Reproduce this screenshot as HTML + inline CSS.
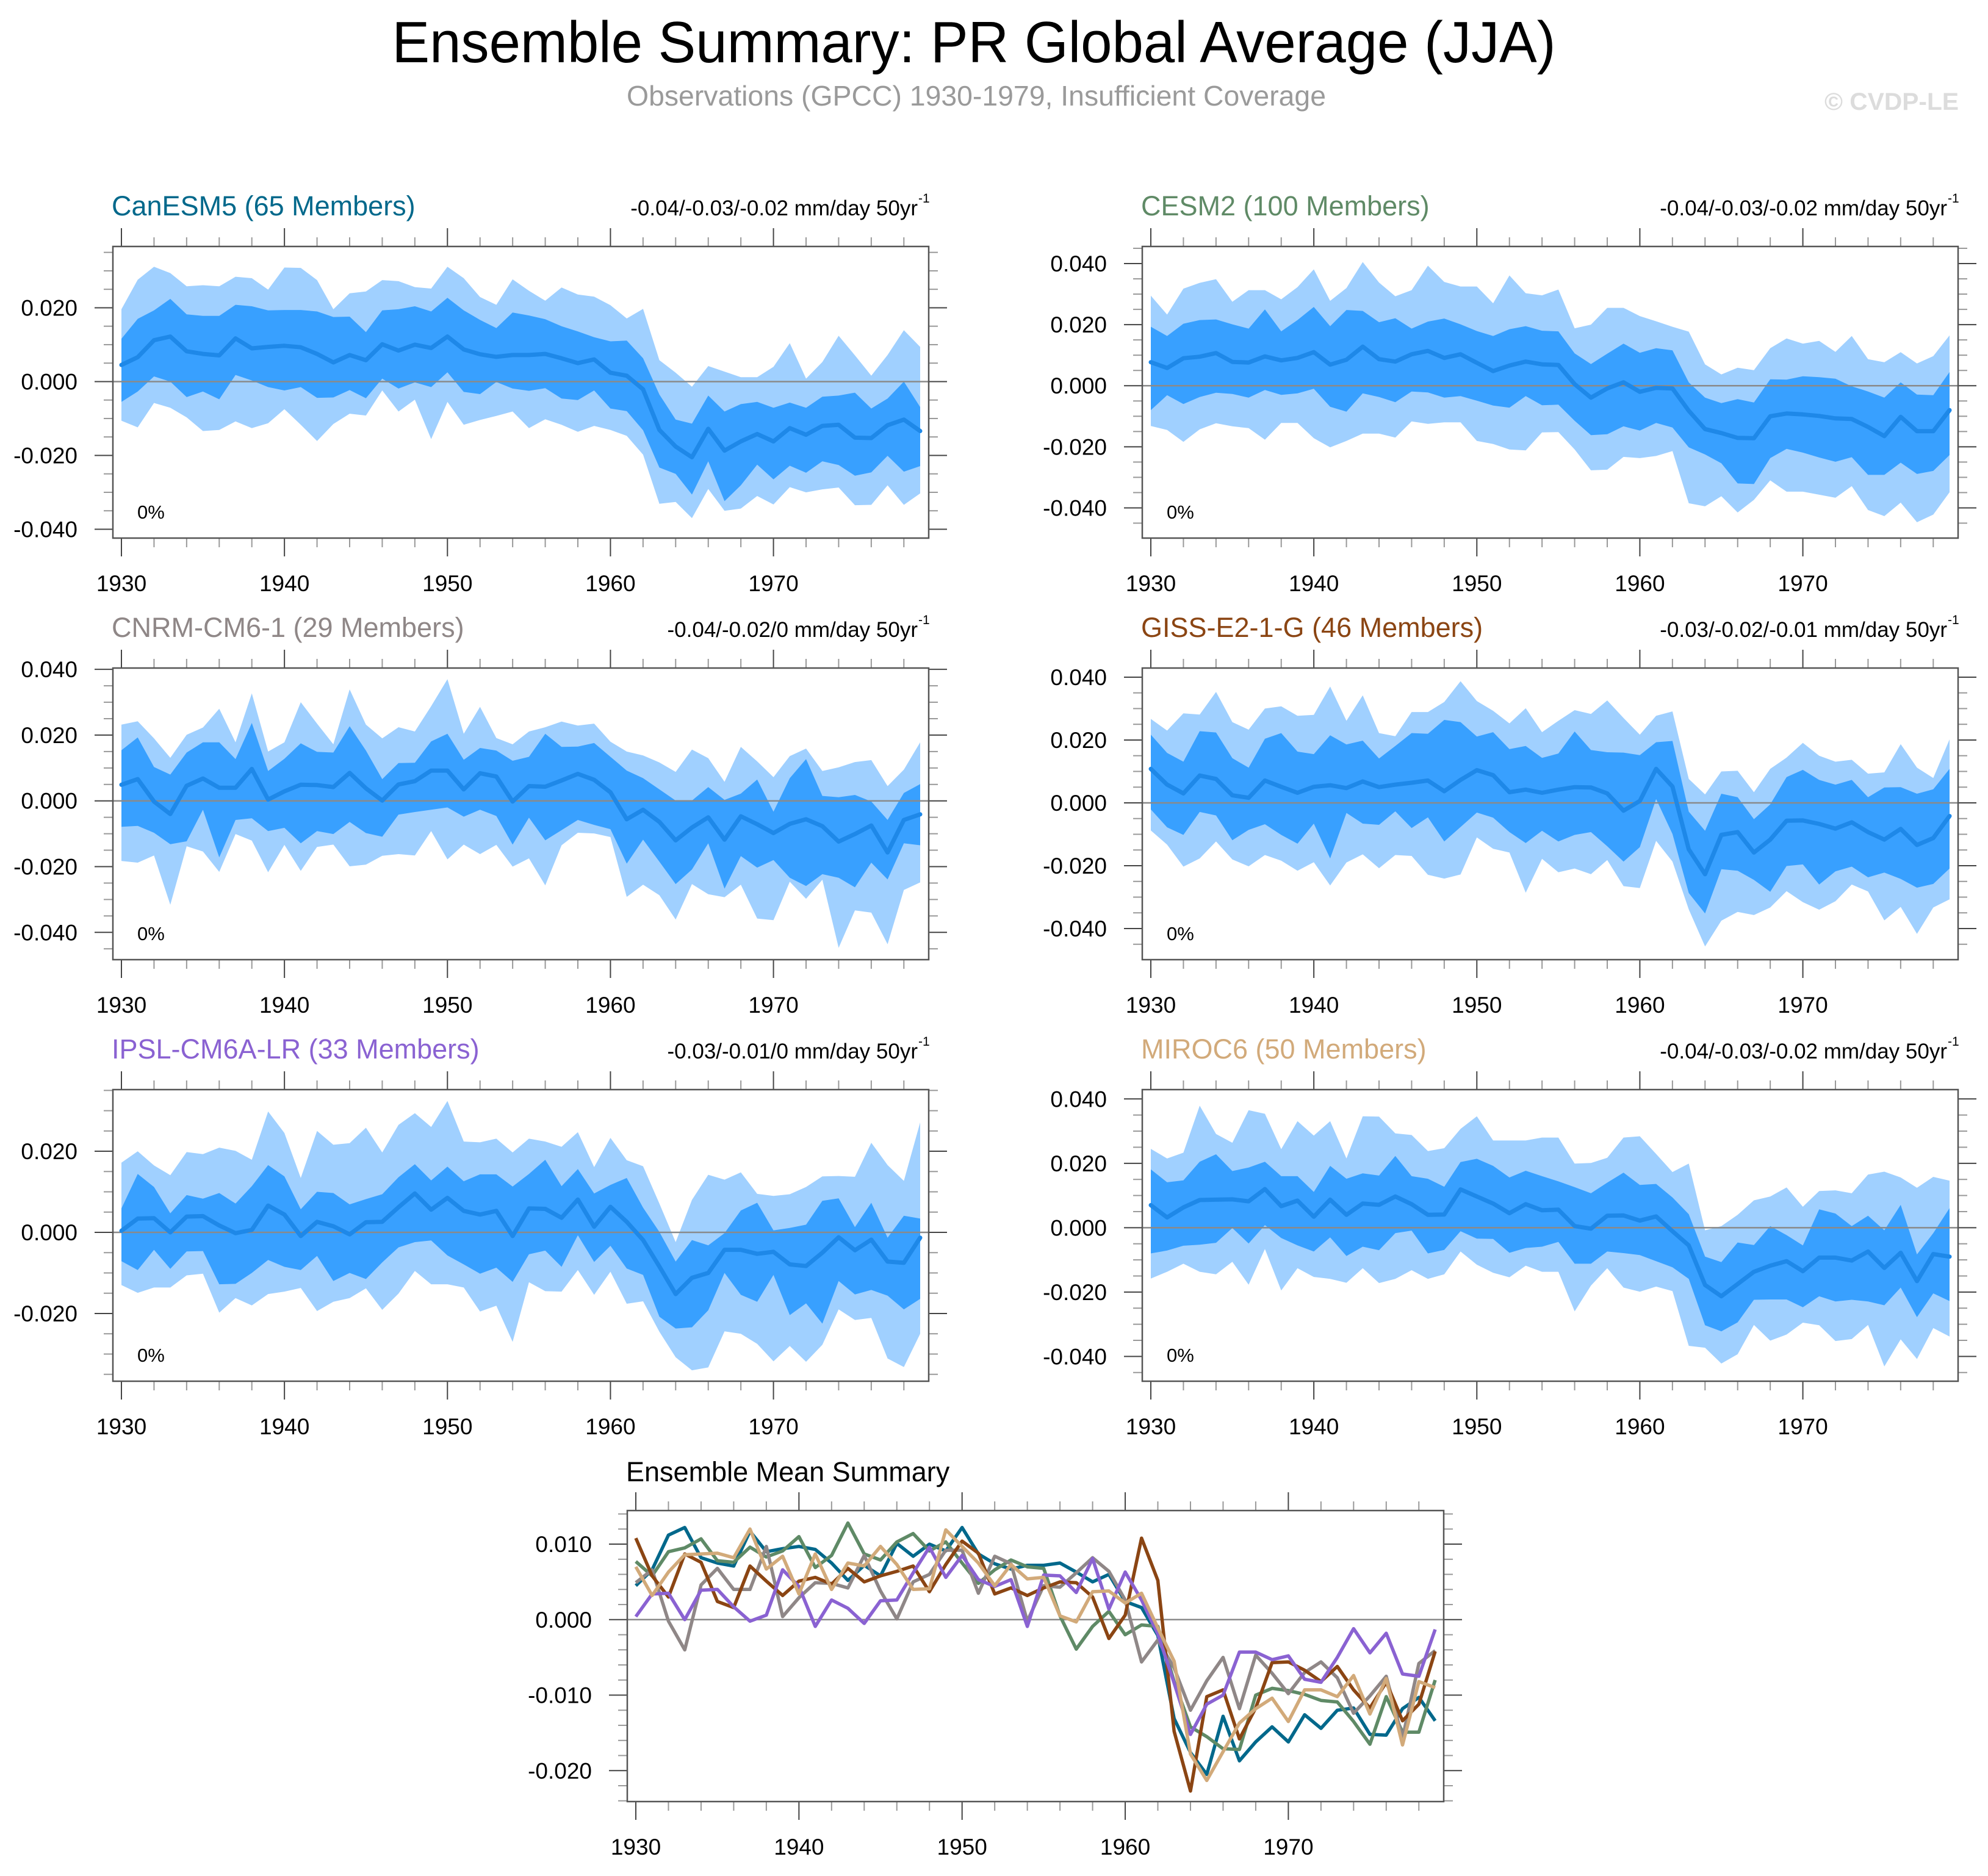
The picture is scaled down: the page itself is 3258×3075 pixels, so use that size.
<!DOCTYPE html>
<html><head><meta charset="utf-8">
<style>
html,body{margin:0;padding:0;background:#fff;}
svg{display:block;font-family:"Liberation Sans",Arial,sans-serif;}
</style></head>
<body>
<svg id="fig" width="3258" height="3075" viewBox="0 0 3258 3075" xmlns="http://www.w3.org/2000/svg">
<rect x="0" y="0" width="3258" height="3075" fill="#fff"/>
<text x="1596" y="102" font-size="96" text-anchor="middle" textLength="1907" lengthAdjust="spacingAndGlyphs">Ensemble Summary: PR Global Average (JJA)</text>
<text x="1600" y="173" font-size="46" fill="#9a9a9a" text-anchor="middle" textLength="1146" lengthAdjust="spacingAndGlyphs">Observations (GPCC) 1930-1979, Insufficient Coverage</text>
<text x="3210" y="180" font-size="40" font-weight="bold" fill="#dcdcdc" text-anchor="end" textLength="220" lengthAdjust="spacingAndGlyphs">© CVDP-LE</text>
<g id="panels"></g>
</svg>
<script>
const years = [];
for (let y = 1930; y <= 1979; y++) years.push(y);

const modelNames = ["CanESM5 (65 Members)","CESM2 (100 Members)","CNRM-CM6-1 (29 Members)","GISS-E2-1-G (46 Members)","IPSL-CM6A-LR (33 Members)","MIROC6 (50 Members)"];
const trendLabels = ["-0.04/-0.03/-0.02 mm/day 50yr","-0.04/-0.03/-0.02 mm/day 50yr","-0.04/-0.02/0 mm/day 50yr","-0.03/-0.02/-0.01 mm/day 50yr","-0.03/-0.01/0 mm/day 50yr","-0.04/-0.03/-0.02 mm/day 50yr"];
const modelColors = ["#00688b","#5f8a66","#8f8787","#8b4513","#8a62d2","#d2aa7a"];

// CanESM5
const canesm5Mean = [0.0045,0.0066,0.0112,0.0122,0.0082,0.0075,0.0071,0.0117,0.009,0.0094,0.0097,0.0093,0.0075,0.0052,0.0072,0.0058,0.0101,0.0084,0.01,0.0091,0.0122,0.0087,0.0074,0.0067,0.0072,0.0072,0.0075,0.0063,0.005,0.006,0.0024,0.0016,-0.0021,-0.0131,-0.0176,-0.0205,-0.0128,-0.0187,-0.0162,-0.0142,-0.0162,-0.0126,-0.0144,-0.012,-0.0117,-0.0152,-0.0153,-0.0118,-0.0103,-0.0134];
const canesm5InHi = [0.0116,0.017,0.0193,0.0224,0.0182,0.0178,0.0178,0.0208,0.0204,0.0193,0.0194,0.0194,0.019,0.0175,0.0176,0.0134,0.0193,0.0196,0.0204,0.019,0.0227,0.0193,0.0167,0.0145,0.0187,0.0179,0.0169,0.015,0.0136,0.012,0.0109,0.0111,0.0063,-0.0035,-0.0103,-0.0114,-0.0038,-0.0081,-0.0061,-0.0055,-0.0071,-0.0057,-0.0071,-0.0041,-0.0038,-0.003,-0.0073,-0.0046,0.0,-0.0069];
const canesm5InLo = [-0.0055,-0.0027,0.0014,0.0,-0.0042,-0.0027,-0.0048,0.0018,0.0003,-0.0015,-0.0024,-0.0015,-0.0044,-0.0043,-0.0023,-0.0045,0.0008,-0.0019,-0.0002,-0.0015,0.0025,-0.0028,-0.0034,-0.0001,-0.0019,-0.0025,-0.0018,-0.0046,-0.005,-0.0024,-0.0073,-0.008,-0.0132,-0.0233,-0.025,-0.0306,-0.0216,-0.0324,-0.0281,-0.0225,-0.0265,-0.0228,-0.0247,-0.0216,-0.0226,-0.0255,-0.0246,-0.0201,-0.0244,-0.0229];
const canesm5OutHi = [0.0196,0.0276,0.0311,0.0294,0.0258,0.0261,0.0258,0.0284,0.028,0.0249,0.0309,0.0308,0.0275,0.0196,0.0239,0.0244,0.0275,0.0272,0.0256,0.0252,0.0311,0.028,0.0229,0.0208,0.0277,0.0246,0.0219,0.0255,0.0236,0.023,0.0207,0.0171,0.0197,0.0058,0.0024,-0.0014,0.0042,0.0027,0.0012,0.0012,0.004,0.0104,0.0008,0.0053,0.0124,0.0071,0.0016,0.0072,0.0139,0.0094];
const canesm5OutLo = [-0.0106,-0.0124,-0.0058,-0.0071,-0.0097,-0.0134,-0.0131,-0.0108,-0.0126,-0.0113,-0.0075,-0.0117,-0.0161,-0.0115,-0.0087,-0.0092,-0.0024,-0.0081,-0.0049,-0.0156,-0.0055,-0.0117,-0.0104,-0.0093,-0.0081,-0.0126,-0.0102,-0.0117,-0.0136,-0.012,-0.0131,-0.0147,-0.0198,-0.0331,-0.0326,-0.037,-0.0291,-0.035,-0.0344,-0.031,-0.0333,-0.0286,-0.03,-0.0292,-0.0287,-0.0335,-0.0334,-0.0281,-0.0334,-0.0303];

// CESM2
const cesm2Mean = [0.0077,0.0058,0.009,0.0095,0.0107,0.0078,0.0076,0.0096,0.0083,0.0091,0.011,0.0069,0.0085,0.0128,0.0087,0.0079,0.0103,0.0114,0.0091,0.0103,0.0075,0.0048,0.0066,0.0079,0.007,0.0068,0.0005,-0.0039,-0.0009,0.0011,-0.002,-0.0007,-0.0009,-0.0082,-0.0142,-0.0155,-0.0171,-0.0172,-0.01,-0.0091,-0.0094,-0.0099,-0.0107,-0.0109,-0.0135,-0.0165,-0.0102,-0.0149,-0.0149,-0.008];
const cesm2InHi = [0.0193,0.0163,0.0203,0.0215,0.0217,0.0201,0.0187,0.025,0.0178,0.0215,0.0258,0.0195,0.0248,0.0245,0.0208,0.0221,0.0187,0.021,0.022,0.0201,0.0179,0.0163,0.0185,0.0195,0.018,0.0178,0.0106,0.0071,0.0105,0.0138,0.0108,0.0123,0.0116,0.0011,-0.0039,-0.0057,-0.0044,-0.0055,0.0021,0.002,0.0031,0.0028,0.0023,-0.0002,-0.0019,-0.0039,0.0011,-0.0029,-0.0031,0.0045];
const cesm2InLo = [-0.008,-0.0031,-0.006,-0.0037,-0.0023,-0.0027,-0.0039,-0.0014,-0.003,-0.0025,-0.001,-0.0069,-0.0085,-0.0025,-0.0037,-0.0054,-0.0019,-0.0022,-0.0039,-0.0034,-0.0049,-0.0065,-0.0072,-0.0034,-0.0064,-0.0062,-0.0115,-0.0162,-0.0159,-0.0133,-0.0147,-0.0122,-0.0137,-0.0202,-0.0225,-0.0254,-0.032,-0.0322,-0.0237,-0.0207,-0.0219,-0.0235,-0.0249,-0.0234,-0.0292,-0.0292,-0.0252,-0.0289,-0.0279,-0.0227];
const cesm2OutHi = [0.0295,0.0233,0.0318,0.0337,0.0349,0.0275,0.0313,0.0313,0.0283,0.0323,0.0381,0.0278,0.032,0.0405,0.0338,0.0293,0.0313,0.0393,0.034,0.0325,0.0325,0.027,0.0361,0.0303,0.0296,0.0315,0.0188,0.02,0.0255,0.0255,0.0228,0.0211,0.0193,0.0177,0.007,0.0037,0.0059,0.0051,0.0123,0.0155,0.0138,0.0147,0.0111,0.0163,0.0087,0.0077,0.011,0.0073,0.0097,0.0165];
const cesm2OutLo = [-0.0132,-0.0145,-0.0184,-0.0143,-0.0123,-0.0133,-0.0139,-0.0177,-0.0122,-0.0122,-0.0172,-0.0202,-0.0181,-0.0157,-0.0157,-0.017,-0.0117,-0.0125,-0.012,-0.012,-0.0181,-0.0191,-0.0209,-0.0212,-0.0153,-0.0152,-0.0209,-0.0277,-0.0275,-0.0233,-0.0237,-0.023,-0.0214,-0.0385,-0.0395,-0.0362,-0.0415,-0.0374,-0.031,-0.0347,-0.0347,-0.0357,-0.0367,-0.0329,-0.0407,-0.0427,-0.0383,-0.0447,-0.0422,-0.0349];

// CNRM-CM6-1
const cnrmMean = [0.0049,0.0066,-0.0002,-0.004,0.0046,0.0068,0.004,0.004,0.0097,0.0004,0.0029,0.0049,0.0048,0.0042,0.0085,0.0038,0.0001,0.005,0.006,0.0092,0.0092,0.0035,0.0084,0.0074,-0.0002,0.0045,0.0043,0.0062,0.0082,0.0064,0.0026,-0.0056,-0.0027,-0.0064,-0.012,-0.0081,-0.005,-0.0118,-0.0047,-0.0071,-0.0098,-0.007,-0.0056,-0.0077,-0.0124,-0.0101,-0.0075,-0.0157,-0.0058,-0.0041];
const cnrmInHi = [0.0154,0.0193,0.0103,0.008,0.0147,0.0178,0.0178,0.0127,0.0237,0.0091,0.0128,0.0175,0.0149,0.0147,0.0227,0.0153,0.0066,0.0115,0.0116,0.0181,0.0204,0.0125,0.0161,0.0153,0.0122,0.0134,0.0204,0.0164,0.0165,0.0176,0.0134,0.0092,0.0069,0.0035,0.0001,0.0001,0.0042,0.0003,0.0022,0.0065,-0.0033,0.0069,0.0127,0.0015,0.0011,0.0018,-0.0002,-0.0058,0.0024,0.0051];
const cnrmInLo = [-0.0079,-0.0076,-0.0097,-0.0132,-0.0123,-0.0027,-0.0172,-0.0058,-0.0053,-0.0092,-0.0082,-0.0129,-0.0092,-0.0101,-0.0064,-0.0098,-0.0109,-0.0042,-0.0034,-0.0027,-0.002,-0.0048,-0.0027,-0.0046,-0.0133,-0.0051,-0.012,-0.0089,-0.0058,-0.0073,-0.0086,-0.0191,-0.0118,-0.0185,-0.0253,-0.0209,-0.0129,-0.0267,-0.0168,-0.0203,-0.018,-0.0234,-0.0259,-0.0223,-0.0234,-0.0263,-0.0188,-0.0239,-0.0129,-0.0135];
const cnrmOutHi = [0.0232,0.0242,0.019,0.0131,0.0201,0.0223,0.028,0.0178,0.0327,0.015,0.0178,0.03,0.0235,0.0172,0.0339,0.0232,0.019,0.0224,0.0211,0.0288,0.037,0.0204,0.0286,0.0191,0.0172,0.0211,0.0224,0.0241,0.0229,0.0235,0.018,0.015,0.0138,0.0117,0.0088,0.0156,0.013,0.0058,0.0164,0.012,0.0072,0.0136,0.0159,0.0091,0.0102,0.0118,0.0124,0.0045,0.0095,0.0178];
const cnrmOutLo = [-0.0183,-0.0188,-0.0166,-0.0316,-0.0138,-0.0154,-0.0216,-0.0101,-0.0121,-0.0217,-0.0134,-0.0213,-0.014,-0.0133,-0.0199,-0.0194,-0.0167,-0.0162,-0.0166,-0.0092,-0.0178,-0.0133,-0.0162,-0.0134,-0.02,-0.0175,-0.0257,-0.0135,-0.0097,-0.0099,-0.011,-0.0292,-0.0255,-0.0287,-0.0361,-0.0253,-0.0284,-0.0293,-0.0255,-0.0358,-0.0363,-0.0246,-0.0298,-0.024,-0.0447,-0.0333,-0.034,-0.0436,-0.0271,-0.0248];

// GISS-E2-1-G
const gissMean = [0.0108,0.0058,0.003,0.0087,0.0076,0.0024,0.0016,0.0071,0.0051,0.0032,0.0051,0.0056,0.0047,0.0068,0.005,0.0058,0.0064,0.0071,0.0037,0.0073,0.0104,0.0088,0.0034,0.0042,0.0032,0.0042,0.005,0.0049,0.003,-0.0025,0.0006,0.0108,0.0052,-0.0148,-0.0227,-0.0102,-0.0093,-0.0158,-0.0117,-0.0057,-0.0056,-0.0067,-0.0082,-0.0062,-0.0093,-0.0117,-0.0083,-0.0134,-0.0112,-0.0042];
const gissInHi = [0.0217,0.0159,0.0131,0.0228,0.0224,0.0142,0.0112,0.0204,0.0222,0.0163,0.0155,0.0215,0.0186,0.0198,0.0141,0.0181,0.0222,0.022,0.0264,0.0257,0.0211,0.0225,0.0171,0.0181,0.0143,0.0157,0.0227,0.0168,0.0161,0.016,0.0152,0.0193,0.0197,-0.0028,-0.0089,0.0029,0.0018,-0.0052,-0.0005,0.0082,0.0105,0.0073,0.0058,0.0073,0.0018,0.0049,0.005,0.0029,0.0043,0.0108];
const gissInLo = [-0.0021,-0.0078,-0.0102,-0.0029,-0.004,-0.0119,-0.0086,-0.0068,-0.0102,-0.013,-0.0066,-0.0177,-0.0032,-0.0066,-0.007,-0.0027,-0.008,-0.0046,-0.0123,-0.0077,-0.0031,-0.0047,-0.0093,-0.0128,-0.0089,-0.0123,-0.0102,-0.0093,-0.0138,-0.0187,-0.0141,0.0012,-0.0099,-0.0287,-0.0352,-0.0211,-0.0216,-0.0245,-0.0283,-0.0201,-0.0196,-0.026,-0.0218,-0.0203,-0.0237,-0.0222,-0.0242,-0.027,-0.0258,-0.0209];
const gissOutHi = [0.0267,0.023,0.0285,0.0281,0.0353,0.0257,0.0233,0.03,0.0307,0.0277,0.028,0.037,0.0261,0.0342,0.0222,0.0212,0.0289,0.0289,0.0321,0.0387,0.0324,0.0293,0.0253,0.0301,0.0225,0.0261,0.0295,0.0283,0.0326,0.027,0.0217,0.0277,0.0291,0.0076,0.0027,0.01,0.0102,0.0034,0.0108,0.0144,0.0191,0.015,0.0131,0.0137,0.0093,0.0097,0.0187,0.0112,0.0079,0.0202];
const gissOutLo = [-0.0088,-0.0133,-0.0203,-0.0177,-0.0123,-0.018,-0.0202,-0.0166,-0.0184,-0.0216,-0.0189,-0.0263,-0.019,-0.0164,-0.0208,-0.0166,-0.0169,-0.0229,-0.0241,-0.0228,-0.011,-0.0146,-0.0158,-0.0286,-0.0178,-0.0221,-0.0209,-0.0227,-0.0182,-0.0265,-0.0271,-0.0121,-0.0187,-0.0339,-0.0457,-0.0375,-0.0347,-0.0357,-0.0333,-0.0281,-0.0316,-0.034,-0.0313,-0.026,-0.0282,-0.0374,-0.0331,-0.0417,-0.0333,-0.0307];

// IPSL-CM6A-LR
const ipslMean = [0.0004,0.0034,0.0035,0.0,0.0039,0.004,0.0017,-0.0002,0.0006,0.0066,0.0044,-0.0009,0.0026,0.0015,-0.0005,0.0025,0.0026,0.0062,0.0096,0.0056,0.0085,0.0053,0.0044,0.0053,-0.0009,0.0059,0.0058,0.0036,0.0081,0.0014,0.0063,0.0026,-0.0019,-0.0084,-0.0152,-0.0112,-0.01,-0.0043,-0.0043,-0.0053,-0.0048,-0.0079,-0.0083,-0.005,-0.0012,-0.0044,-0.0018,-0.0072,-0.0075,-0.0013];
const ipslInHi = [0.0059,0.0144,0.0112,0.0047,0.0092,0.0083,0.0097,0.0071,0.0114,0.0166,0.0138,0.0057,0.01,0.0097,0.0069,0.0082,0.0094,0.0136,0.0168,0.0128,0.0162,0.0126,0.0143,0.0143,0.0113,0.0144,0.0179,0.0114,0.0156,0.0096,0.0117,0.0134,0.0061,0.0001,-0.0072,-0.0019,-0.0032,-0.0002,0.0054,0.0073,0.0005,0.0011,0.0019,0.0078,0.0084,0.0013,0.0073,-0.0013,0.0041,0.0034];
const ipslInLo = [-0.0071,-0.0093,-0.0043,-0.009,-0.0047,-0.0046,-0.0128,-0.0127,-0.01,-0.0068,-0.0085,-0.0093,-0.0058,-0.012,-0.01,-0.0115,-0.0074,-0.0037,-0.0024,-0.002,-0.0057,-0.0079,-0.0102,-0.0087,-0.0122,-0.0054,-0.0045,-0.0085,-0.0007,-0.0073,-0.0033,-0.0089,-0.0105,-0.0208,-0.0237,-0.0234,-0.0192,-0.01,-0.0154,-0.0171,-0.0105,-0.0204,-0.0175,-0.0225,-0.012,-0.0153,-0.0142,-0.0156,-0.019,-0.0164];
const ipslOutHi = [0.0172,0.02,0.0165,0.0141,0.0198,0.0193,0.0209,0.0201,0.0179,0.0298,0.0245,0.0134,0.025,0.0216,0.022,0.0258,0.0197,0.0265,0.0294,0.026,0.0324,0.0224,0.0222,0.0231,0.0197,0.0231,0.0224,0.0211,0.0247,0.0161,0.0233,0.0178,0.0163,0.0071,-0.0024,0.008,0.0142,0.013,0.0148,0.0095,0.009,0.0094,0.0112,0.0138,0.0139,0.0137,0.0221,0.0166,0.0127,0.0271];
const ipslOutLo = [-0.013,-0.0149,-0.0136,-0.0136,-0.0106,-0.0102,-0.0198,-0.0162,-0.018,-0.0152,-0.0146,-0.0137,-0.0194,-0.0171,-0.0162,-0.0138,-0.0191,-0.0151,-0.0095,-0.0128,-0.0128,-0.0136,-0.0195,-0.0181,-0.027,-0.0123,-0.0145,-0.0146,-0.0093,-0.0154,-0.0097,-0.0176,-0.017,-0.0245,-0.0308,-0.034,-0.0333,-0.0244,-0.025,-0.0275,-0.0318,-0.028,-0.0319,-0.0277,-0.019,-0.0216,-0.0211,-0.0311,-0.0332,-0.025];

// MIROC6
const mirocMean = [0.007,0.0032,0.0063,0.0086,0.0087,0.0088,0.0082,0.012,0.0067,0.0084,0.0034,0.0087,0.004,0.0075,0.0071,0.0097,0.0073,0.004,0.0041,0.0119,0.0097,0.0075,0.0045,0.0073,0.0054,0.0056,0.0005,-0.0003,0.0037,0.0038,0.0022,0.0035,-0.0011,-0.0055,-0.0178,-0.0213,-0.0175,-0.0137,-0.0118,-0.0104,-0.0135,-0.0093,-0.0093,-0.0102,-0.0074,-0.0125,-0.0078,-0.0166,-0.0082,-0.009];
const mirocInHi = [0.0181,0.0141,0.0147,0.0205,0.0228,0.0176,0.0187,0.0205,0.016,0.016,0.0111,0.0192,0.0152,0.0169,0.0162,0.0223,0.016,0.0152,0.0127,0.0204,0.0214,0.0192,0.0156,0.0177,0.016,0.0144,0.0126,0.0107,0.014,0.0171,0.0133,0.0136,0.0094,0.0042,-0.009,-0.0107,-0.0046,-0.0054,0.0005,-0.0023,-0.0055,0.0057,0.0044,0.0005,0.0037,-0.0008,0.0071,-0.0083,-0.0017,0.0061];
const mirocInLo = [-0.008,-0.0071,-0.0056,-0.0053,-0.0047,-0.0001,-0.0049,0.0008,-0.0032,-0.0055,-0.0074,-0.003,-0.0088,-0.0059,-0.007,-0.0017,-0.0009,-0.008,-0.0069,-0.0011,-0.0034,-0.0035,-0.0078,-0.0063,-0.0059,-0.0044,-0.0112,-0.0112,-0.0074,-0.0079,-0.0085,-0.0104,-0.0123,-0.0159,-0.0303,-0.0322,-0.0294,-0.0224,-0.0223,-0.0223,-0.0247,-0.0213,-0.0229,-0.0224,-0.0229,-0.0241,-0.0186,-0.0278,-0.0204,-0.0228];
const mirocOutHi = [0.0245,0.0215,0.0233,0.0379,0.0291,0.0264,0.0365,0.0354,0.0244,0.0331,0.0286,0.0331,0.0215,0.0346,0.0345,0.0293,0.0288,0.0238,0.0247,0.0307,0.0346,0.0271,0.0271,0.0271,0.028,0.028,0.0199,0.0201,0.0217,0.028,0.0284,0.0229,0.0173,0.0199,-0.0008,0.0005,0.004,0.0085,0.0097,0.0125,0.0065,0.0114,0.0116,0.0107,0.0165,0.0174,0.0156,0.0124,0.0158,0.0146];
const mirocOutLo = [-0.0158,-0.0137,-0.0112,-0.0137,-0.0145,-0.0106,-0.0177,-0.0066,-0.0195,-0.0126,-0.0153,-0.0159,-0.0171,-0.0126,-0.0172,-0.0159,-0.0132,-0.0159,-0.0145,-0.0074,-0.0115,-0.014,-0.0154,-0.0118,-0.0137,-0.0137,-0.026,-0.018,-0.0126,-0.0186,-0.0199,-0.0183,-0.0197,-0.0367,-0.0373,-0.0422,-0.0393,-0.0302,-0.0351,-0.0332,-0.0295,-0.0303,-0.0352,-0.0346,-0.0302,-0.0431,-0.0347,-0.0408,-0.0312,-0.0338];

const meanSeries = [canesm5Mean, cesm2Mean, cnrmMean, gissMean, ipslMean, mirocMean];
const inHiSeries = [canesm5InHi, cesm2InHi, cnrmInHi, gissInHi, ipslInHi, mirocInHi];
const inLoSeries = [canesm5InLo, cesm2InLo, cnrmInLo, gissInLo, ipslInLo, mirocInLo];
const outHiSeries = [canesm5OutHi, cesm2OutHi, cnrmOutHi, gissOutHi, ipslOutHi, mirocOutHi];
const outLoSeries = [canesm5OutLo, cesm2OutLo, cnrmOutLo, gissOutLo, ipslOutLo, mirocOutLo];

const yMaxes = [0.0366, 0.0456, 0.0404, 0.0429, 0.0352, 0.0429];
const yMins = [-0.0424, -0.0499, -0.0483, -0.0499, -0.0367, -0.0477];
const yMajorTicks = [[0.02,0,-0.02,-0.04],[0.04,0.02,0,-0.02,-0.04],[0.04,0.02,0,-0.02,-0.04],[0.04,0.02,0,-0.02,-0.04],[0.02,0,-0.02],[0.04,0.02,0,-0.02,-0.04]];
const xTickLabels = [1930,1940,1950,1960,1970];
const summaryTicks = [0.01,0,-0.01,-0.02];

const NS = "http://www.w3.org/2000/svg";
const root = document.getElementById("panels");
function mk(tag, attrs, parent) {
  const e = document.createElementNS(NS, tag);
  for (const k in attrs) e.setAttribute(k, attrs[k]);
  (parent || root).appendChild(e);
  return e;
}
function fmt(v) { return (v < -1e-9 ? "-" : "") + Math.abs(v).toFixed(3); }

function drawAxes(g, L, T, W, H, sx, sy, yMin, yMax, majors, minorStep) {
  const z = mk("line", {x1:L, x2:L+W, y1:sy(0), y2:sy(0), stroke:"#8a8a8a", "stroke-width":2.5}, g);
  
  
  for (let yr = 1930; yr <= 1979; yr += 2) {
    const major = (yr % 10 === 0);
    const len = major ? 30 : 15;
    const col = major ? "#444" : "#999";
    const x = sx(yr);
    mk("line", {x1:x, x2:x, y1:T+H, y2:T+H+len, stroke:col, "stroke-width":2}, g);
    mk("line", {x1:x, x2:x, y1:T, y2:T-len, stroke:col, "stroke-width":2}, g);
  }
  xTickLabels.forEach(yr => {
    const t = mk("text", {x:sx(yr), y:T+H+87, "font-size":37, "text-anchor":"middle"}, g);
    t.textContent = yr;
    
    
  });
  const start = Math.ceil(yMin / minorStep - 1e-6);
  const end = Math.floor(yMax / minorStep + 1e-6);
  for (let k = start; k <= end; k++) {
    const v = k * minorStep;
    const isMajor = majors.some(m => Math.abs(m - v) < 1e-7);
    const len = isMajor ? 30 : 15;
    const col = isMajor ? "#444" : "#999";
    const y = sy(v);
    mk("line", {x1:L, x2:L-len, y1:y, y2:y, stroke:col, "stroke-width":2}, g);
    mk("line", {x1:L+W, x2:L+W+len, y1:y, y2:y, stroke:col, "stroke-width":2}, g);
  }
  majors.forEach(v => {
    const t = mk("text", {x:L-58, y:sy(v)+13, "font-size":37, "text-anchor":"end"}, g);
    t.textContent = fmt(v);
    
    
  });
  const b = mk("rect", {x:L, y:T, width:W, height:H, fill:"none", stroke:"#555", "stroke-width":2.5}, g);
  
  
}

const colLefts = [185, 1872];
const rowTops = [404, 1095, 1786];
const PW = 1337, PH = 478;

for (let m = 0; m < 6; m++) {
  const L = colLefts[m % 2], T = rowTops[Math.floor(m / 2)];
  const yMin = yMins[m], yMax = yMaxes[m];
  const sx = yr => L + 14 + (yr - 1930) * (PW - 28) / 49;
  const sy = v => T + (yMax - v) / (yMax - yMin) * PH;
  const g = mk("g", {});
  
  

  const band = (hi, lo) => {
    const up = years.map((yr, i) => sx(yr).toFixed(1) + "," + sy(hi[i]).toFixed(1));
    const dn = years.map((yr, i) => sx(yr).toFixed(1) + "," + sy(lo[i]).toFixed(1)).reverse();
    return up.concat(dn).join(" ");
  };
  const ob = mk("polygon", {points: band(outHiSeries[m], outLoSeries[m]), fill:"#a0d0ff"}, g);
  
  
  const ib = mk("polygon", {points: band(inHiSeries[m], inLoSeries[m]), fill:"#38a0ff"}, g);
  
  

  drawAxes(g, L, T, PW, PH, sx, sy, yMin, yMax, yMajorTicks[m], 0.005);

  const ml = mk("polyline", {points: years.map((yr, i) => sx(yr).toFixed(1) + "," + sy(meanSeries[m][i]).toFixed(1)).join(" "), fill:"none", stroke:"#1e88e8", "stroke-width":7, "stroke-linejoin":"round", "stroke-linecap":"round"}, g);
  
  

  const tt = mk("text", {x:L - 2, y:T - 51, "font-size":45, fill:modelColors[m]}, g);
  tt.textContent = modelNames[m];
  
  

  const tr = mk("text", {x:L + PW - 18, y:T - 51, "font-size":35, "text-anchor":"end"}, g);
  tr.textContent = trendLabels[m];
  
  
  const sup = mk("text", {x:L + PW - 17, y:T - 72, "font-size":21}, g);
  sup.textContent = "-1";
  
  

  const pc = mk("text", {x:L + 40, y:T + 446, "font-size":31}, g);
  pc.textContent = "0%";
  
  
}

(function () {
  const L = 1028, T = 2476, W = 1338, H = 477;
  const yMax = 0.01445, yMin = -0.0241;
  const sx = yr => L + 14 + (yr - 1930) * (W - 28) / 49;
  const sy = v => T + (yMax - v) / (yMax - yMin) * H;
  const g = mk("g", {});
  
  
  drawAxes(g, L, T, W, H, sx, sy, yMin, yMax, summaryTicks, 0.002);
  for (let m = 0; m < 6; m++) {
    const pl = mk("polyline", {points: years.map((yr, i) => sx(yr).toFixed(1) + "," + sy(meanSeries[m][i]).toFixed(1)).join(" "), fill:"none", stroke:modelColors[m], "stroke-width":5.5, "stroke-linejoin":"round"}, g);
    
    
  }
  const t = mk("text", {x:L - 2, y:T - 48, "font-size":45}, g);
  t.textContent = "Ensemble Mean Summary";
  
  
})();
</script>
</body></html>
